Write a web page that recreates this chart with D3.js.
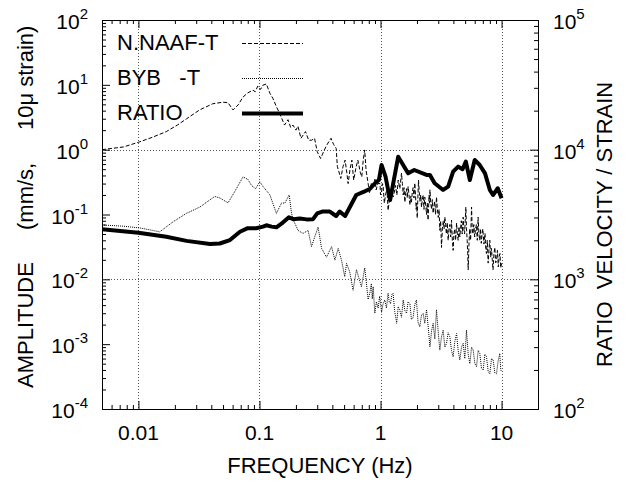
<html>
<head>
<script src="https://d3js.org/d3.v7.min.js"></script>
<style>
  body { margin: 0; background: #fff; }
  svg text { font-family: "Liberation Sans", Arial, sans-serif; fill: #000; white-space: pre; }
</style>
</head>
<body>
<svg id="chart" width="632" height="486"></svg>
<script>
// frequency (Hz) and amplitude of N.NAAF-T (left axis)
var naafFreq = [0.005,0.0075,0.01,0.013,0.017,0.021,0.025,0.032,0.041,0.05,0.055,0.0605,0.0666,0.0732,0.08,0.0885,0.092,0.097,0.102,0.107,0.114,
  0.122,0.129,0.138,0.147,0.161,0.172,0.181,0.189,0.2,0.208,0.22,0.24,0.255,0.27,0.285,0.3,0.32,0.34,0.36,0.39,
  0.41,0.43,0.44,0.47,0.49,0.51,0.53,0.54,0.56,0.58,0.6,0.63,0.65,0.68,0.7,0.72,0.74,0.76,0.79,0.81,
  0.84,0.87,0.9,0.92,0.95,
  0.99,1.0,1.02,1.035,1.05,1.075,1.1,1.13,1.155,1.18,
  1.2,1.235,1.27,1.3,1.33,1.365,1.4,1.445,1.49,1.515,
  1.54,1.565,1.59,1.615,1.64,1.665,1.69,1.72,1.75,1.775,
  1.8,1.83,1.86,1.89,1.92,1.945,1.97,1.99,2.01,2.035,
  2.06,2.09,2.12,2.15,2.18,2.215,2.25,2.285,2.32,2.36,
  2.4,2.435,2.47,2.5,2.52,2.54,2.56,2.6,2.64,2.68,
  2.72,2.76,2.8,2.85,2.9,2.95,3.0,3.045,3.09,3.14,
  3.19,3.245,3.3,3.35,3.4,3.45,3.5,3.56,3.62,3.68,
  3.74,3.8,3.86,3.92,3.98,4.04,4.1,4.17,4.25,4.31,
  4.38,4.45,4.52,4.58,4.65,4.73,4.82,4.88,4.95,5.01,
  5.07,5.13,5.2,5.25,5.3,5.38,5.45,5.55,5.65,5.72,
  5.8,5.9,6.0,6.1,6.2,6.3,6.4,6.5,6.6,6.7,
  6.8,6.9,7.0,7.15,7.3,7.4,7.5,7.62,7.75,7.88,
  8.0,8.12,8.25,8.38,8.5,8.65,8.8,8.95,9.1,9.25,
  9.4,9.55,9.7,9.85,10];
var naafAmp = [1.0,1.1,1.3,1.55,1.9,2.4,3.0,4.1,5.1,5.4,5.3,4.1,4.9,6.5,7.5,8.3,7.8,9.6,8.5,9.9,10.3,
  7.4,6.2,4.6,3.6,2.4,2.9,2.2,2.4,2.0,2.3,1.5,1.9,1.4,1.4,1.5,0.93,0.73,0.95,1.18,1.5,
  1.2,1.05,0.55,0.36,0.55,0.69,0.4,0.3,0.5,0.69,0.34,0.55,0.69,0.45,0.38,0.7,0.99,0.48,0.3,0.21,
  0.3,0.27,0.35,0.24,0.3,
  0.3,0.2,0.22,0.3,0.28,0.15,0.2,0.25,0.116,0.16,
  0.2,0.24,0.186,0.22,0.28,0.2,0.34,0.25,0.435,0.3,
  0.2,0.26,0.155,0.22,0.25,0.18,0.27,0.2,0.14,0.19,
  0.155,0.22,0.26,0.18,0.305,0.2,0.12,0.15,0.088,0.18,
  0.34,0.22,0.16,0.2,0.13,0.17,0.2,0.12,0.186,0.14,
  0.1,0.15,0.082,0.14,0.2,0.15,0.24,0.15,0.12,0.17,
  0.105,0.13,0.16,0.1,0.186,0.12,0.09,0.12,0.057,0.08,
  0.031,0.06,0.08,0.06,0.091,0.07,0.05,0.075,0.04,0.06,
  0.07,0.045,0.082,0.04,0.028,0.05,0.06,0.04,0.074,0.05,
  0.04,0.065,0.045,0.06,0.08,0.05,0.091,0.06,0.05,0.08,
  0.13,0.06,0.04,0.025,0.014,0.035,0.06,0.04,0.13,0.06,
  0.05,0.07,0.045,0.06,0.07,0.04,0.091,0.05,0.04,0.06,
  0.036,0.05,0.06,0.035,0.051,0.03,0.025,0.04,0.0178,0.03,
  0.04,0.022,0.03,0.02,0.014,0.025,0.031,0.018,0.02,0.028,
  0.0155,0.022,0.025,0.015,0.0178];

// BYB -T (left axis)
var bybFreq = [0.005,0.0075,0.0103,0.013,0.015,0.0193,0.0249,0.0321,0.0427,0.047,
  0.055,0.0645,0.073,0.08,0.086,0.093,0.1006,0.107,0.115,0.122,
  0.138,0.152,0.162,0.176,0.184,0.19,0.202,0.208,0.229,0.252,
  0.269,0.286,0.305,0.326,0.358,0.394,0.42,0.447,0.476,0.506,
  0.524,0.557,0.593,0.633,0.695,0.741,0.79,
  0.816,0.84,0.855,0.87,0.885,0.897,0.925,0.955,0.985,1.02,
  1.05,1.085,1.12,1.155,1.18,1.21,1.24,1.27,1.31,1.36,
  1.40,1.44,1.49,1.54,1.59,1.64,1.69,1.75,1.80,1.86,
  1.92,1.98,2.04,2.11,2.18,2.25,2.32,2.40,2.48,2.56,
  2.64,2.72,2.81,2.90,3.0,3.09,3.19,3.29,3.40,3.51,
  3.62,3.74,3.86,3.98,4.11,4.25,4.38,4.52,4.67,4.82,
  4.97,5.13,5.3,5.47,5.65,5.83,6.02,6.21,6.41,6.61,
  6.83,7.05,7.28,7.51,7.75,8.0,8.26,8.52,8.8,9.08,
  9.37,9.67,9.85,10];
var bybAmp = [0.069,0.066,0.062,0.057,0.054,0.077,0.104,0.13,0.19,0.18,
  0.151,0.25,0.38,0.35,0.28,0.25,0.32,0.27,0.23,0.2,
  0.104,0.15,0.15,0.2,0.104,0.082,0.065,0.057,0.051,0.057,
  0.032,0.045,0.064,0.03,0.022,0.032,0.0198,0.03,0.0198,0.011,
  0.0176,0.013,0.0068,0.0141,0.0077,0.015,0.0049,
  0.0061,0.0086,0.005,0.0077,0.0045,0.003,0.0045,0.0036,0.0055,0.0031,
  0.0042,0.0048,0.0036,0.0061,0.0045,0.0042,0.0058,0.0061,0.0032,0.0021,
  0.0038,0.0034,0.0026,0.0048,0.0033,0.003,0.0045,0.0042,0.0024,0.0026,
  0.0041,0.0048,0.0022,0.00185,0.0028,0.003,0.0021,0.0034,0.0018,0.00091,
  0.0016,0.0021,0.0012,0.0034,0.0015,0.00081,0.0013,0.00164,0.0009,0.00103,
  0.0015,0.0013,0.0008,0.00064,0.0011,0.00146,0.0008,0.00057,0.0009,0.00103,
  0.0006,0.00164,0.0007,0.0005,0.0009,0.00081,0.0005,0.00045,0.0008,0.00072,
  0.00042,0.0004,0.0007,0.00064,0.00038,0.00035,0.0006,0.00057,0.00036,0.00035,
  0.00055,0.00072,0.0004,0.00038];

// RATIO velocity / strain (right axis)
var ratioFreq = [0.005,0.01,0.017,0.025,0.039,0.047,0.057,0.069,0.08,0.094,
  0.107,0.114,0.126,0.138,0.156,0.175,0.19,0.215,0.245,0.277,
  0.3,0.33,0.381,0.43,0.46,0.51,0.56,0.63,0.73,0.82,
  0.9,0.97,1.02,1.1,1.2,1.4,1.69,1.9,2.4,2.56,
  2.8,3.29,3.62,3.98,4.38,4.76,5.07,5.47,6.0,6.6,
  7.3,8.0,8.5,9.3,10];
var ratioVal = [2430,2290,2130,1980,1870,1890,2010,2330,2480,2480,
  2550,2610,2550,2520,2740,3010,2910,2950,2900,2910,
  3230,3330,3330,3080,3330,3080,3630,4470,4740,5000,
  5510,5840,7620,6200,4090,8830,6570,6970,6380,6380,
  5510,4890,5190,6760,7400,7060,8080,5840,8330,7620,
  6570,4890,4470,5040,4220];

var xTickVals = [0.01, 0.1, 1, 10];
var xTickLabels = ["0.01", "0.1", "1", "10"];
var leftExps = [-4, -3, -2, -1, 0, 1, 2];
var rightExps = [2, 3, 4, 5];
var legendNames = ["N.NAAF-T", "BYB   -T", "RATIO"];

var svg = d3.select("#chart");
var L = 102, R = 538, T = 20, B = 409;

var x = d3.scaleLog().domain([0.005, 20]).range([L, R]);
var yL = d3.scaleLog().domain([1e-4, 1e2]).range([B, T]);
var yR = d3.scaleLog().domain([1e2, 1e5]).range([B, T]);

function minors(lo, hi) {
  var out = [];
  for (var e = lo; e < hi; e++)
    for (var k = 2; k <= 9; k++) out.push(k * Math.pow(10, e));
  return out;
}
var xMinor = minors(-3, 2).filter(function(v) { return v >= 0.005 && v <= 20; });

// grid
var grid = svg.append("g").attr("stroke", "#555").attr("stroke-dasharray", "1,2").attr("stroke-width", 1);
xTickVals.forEach(function(v) {
  grid.append("line").attr("x1", Math.round(x(v)) + 0.5).attr("x2", Math.round(x(v)) + 0.5)
    .attr("y1", T).attr("y2", B);
});
[1e3, 1e4].forEach(function(v) {
  grid.append("line").attr("y1", Math.round(yR(v)) + 0.5).attr("y2", Math.round(yR(v)) + 0.5)
    .attr("x1", L).attr("x2", R);
});

function styleAxis(g) {
  g.select(".domain").remove();
  g.selectAll("line").attr("stroke", "#000");
  g.selectAll("text").remove();
}
svg.append("g").attr("transform", "translate(0," + B + ")")
  .call(d3.axisBottom(x).tickValues(xTickVals).tickSize(-8).tickSizeOuter(0)).call(styleAxis);
svg.append("g").attr("transform", "translate(0," + B + ")")
  .call(d3.axisBottom(x).tickValues(xMinor).tickSize(-4).tickSizeOuter(0)).call(styleAxis);
svg.append("g").attr("transform", "translate(0," + T + ")")
  .call(d3.axisTop(x).tickValues(xTickVals).tickSize(-8).tickSizeOuter(0)).call(styleAxis);
svg.append("g").attr("transform", "translate(0," + T + ")")
  .call(d3.axisTop(x).tickValues(xMinor).tickSize(-4).tickSizeOuter(0)).call(styleAxis);
svg.append("g").attr("transform", "translate(" + L + ",0)")
  .call(d3.axisLeft(yL).tickValues(leftExps.map(function(e) { return Math.pow(10, e); })).tickSize(-8).tickSizeOuter(0)).call(styleAxis);
svg.append("g").attr("transform", "translate(" + L + ",0)")
  .call(d3.axisLeft(yL).tickValues(minors(-4, 2)).tickSize(-4).tickSizeOuter(0)).call(styleAxis);
svg.append("g").attr("transform", "translate(" + R + ",0)")
  .call(d3.axisRight(yR).tickValues(rightExps.map(function(e) { return Math.pow(10, e); })).tickSize(-8).tickSizeOuter(0)).call(styleAxis);
svg.append("g").attr("transform", "translate(" + R + ",0)")
  .call(d3.axisRight(yR).tickValues(minors(2, 5)).tickSize(-4).tickSizeOuter(0)).call(styleAxis);

svg.append("rect").attr("x", L + 0.5).attr("y", T + 0.5).attr("width", R - L).attr("height", B - T)
  .attr("fill", "none").attr("stroke", "#000").attr("stroke-width", 1);

// tick labels
function powLabel(sel, e) {
  sel.append("tspan").text("10");
  sel.append("tspan").attr("dy", -10).attr("font-size", 15).text(String(e));
}
leftExps.forEach(function(e) {
  svg.append("text").attr("x", 88).attr("y", yL(Math.pow(10, e)) + 9).attr("font-size", 21)
    .attr("text-anchor", "end").call(powLabel, e);
});
rightExps.forEach(function(e) {
  svg.append("text").attr("x", 553).attr("y", yR(Math.pow(10, e)) + 9).attr("font-size", 21)
    .attr("text-anchor", "start").call(powLabel, e);
});
xTickVals.forEach(function(v, i) {
  svg.append("text").attr("x", x(v)).attr("y", 440).attr("font-size", 21)
    .attr("text-anchor", "middle").text(xTickLabels[i]);
});

// axis titles
svg.append("text").attr("x", 320).attr("y", 473).attr("font-size", 22)
  .attr("text-anchor", "middle").text("FREQUENCY (Hz)");
var lt = svg.append("text").attr("transform", "translate(33,0) rotate(-90)").attr("font-size", 22);
lt.append("tspan").attr("x", -388).text("AMPLITUDE");
lt.append("tspan").attr("x", -230).text("(mm/s,");
lt.append("tspan").attr("x", -130).text("10\u03bc strain)");
svg.append("text").attr("transform", "translate(612,0) rotate(-90)").attr("font-size", 22)
  .attr("x", -367).text("RATIO  VELOCITY / STRAIN");

// series
svg.append("clipPath").attr("id", "plotclip").append("rect")
  .attr("x", L).attr("y", T).attr("width", R - L).attr("height", B - T);

function series(fr, vals) {
  var n = Math.min(fr.length, vals.length), pts = [];
  for (var i = 0; i < n; i++) pts.push([fr[i], vals[i]]);
  return pts;
}
var lineL = d3.line().x(function(d) { return x(d[0]); }).y(function(d) { return yL(d[1]); });
var lineR = d3.line().x(function(d) { return x(d[0]); }).y(function(d) { return yR(d[1]); });

var plot = svg.append("g").attr("clip-path", "url(#plotclip)");
plot.append("path").attr("d", lineL(series(bybFreq, bybAmp)))
  .attr("fill", "none").attr("stroke", "#000").attr("stroke-width", 1).attr("stroke-dasharray", "1,1");
plot.append("path").attr("d", lineL(series(naafFreq, naafAmp)))
  .attr("fill", "none").attr("stroke", "#000").attr("stroke-width", 1).attr("stroke-dasharray", "4,2");
plot.append("path").attr("d", lineR(series(ratioFreq, ratioVal)))
  .attr("fill", "none").attr("stroke", "#000").attr("stroke-width", 4).attr("stroke-linejoin", "round");

// legend
var legStyles = [
  { w: 1, dash: "4,2", c: "#000" },
  { w: 1, dash: "1,1", c: "#000" },
  { w: 4, dash: null, c: "#000" }
];
legendNames.forEach(function(name, i) {
  var yy = 43 + i * 35;
  svg.append("text").attr("x", 117).attr("y", yy + 7).attr("font-size", 22).text(name);
  svg.append("line").attr("x1", 242).attr("x2", 303).attr("y1", yy + 0.5).attr("y2", yy + 0.5)
    .attr("stroke", legStyles[i].c).attr("stroke-width", legStyles[i].w)
    .attr("stroke-dasharray", legStyles[i].dash);
});
</script>
</body>
</html>
